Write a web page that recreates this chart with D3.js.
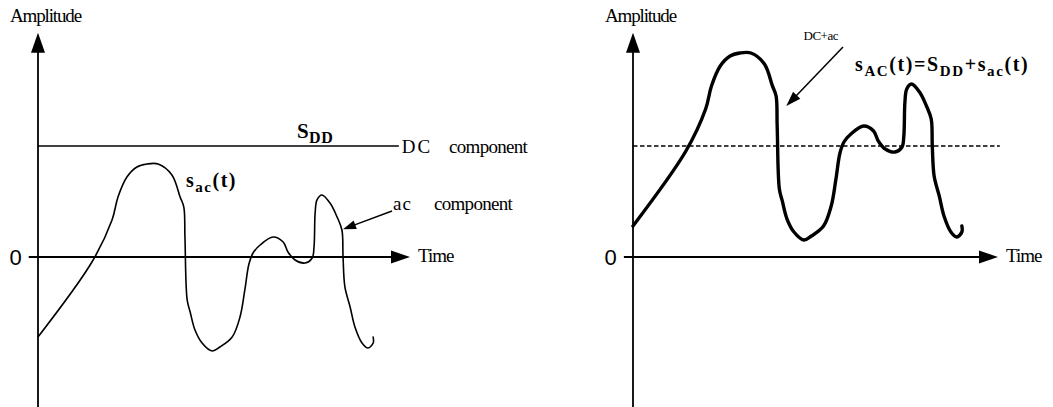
<!DOCTYPE html>
<html>
<head>
<meta charset="utf-8">
<script src="https://cdn.jsdelivr.net/npm/d3@7"></script>
<style>
  body { margin: 0; background: #fff; }
  svg { display: block; }
</style>
</head>
<body>
<div id="chart"></div>
<script>
// hand-drawn ac signal
// time in arbitrary units (arrow tip of the time axis = 10)
const timeValues = [0, 1.45, 1.99, 2.15, 2.39, 2.66, 2.93, 3.23, 3.60, 3.82, 3.92, 3.95, 4.01, 4.09, 4.22,
    4.41, 4.68, 4.89, 5.22, 5.43, 5.56, 5.67, 5.78, 5.97, 6.32, 6.59, 6.72, 6.91, 7.18, 7.37, 7.42,
    7.45, 7.50, 7.63, 7.85, 8.04, 8.17, 8.20, 8.25, 8.39, 8.52, 8.71, 8.87, 9.01, 9.01];
// ac amplitude, in units of the DC level
const acValues = [-0.72, -0.045, 0.333, 0.541, 0.721, 0.811, 0.838, 0.838, 0.739, 0.541, 0.450, 0.180, -0.387, -0.495, -0.658,
    -0.775, -0.847, -0.811, -0.721, -0.541, -0.297, -0.063, 0.036, 0.108, 0.180, 0.135, 0.045, -0.027, -0.054, -0.009, 0.090,
    0.396, 0.514, 0.559, 0.486, 0.360, 0.243, 0, -0.270, -0.450, -0.631, -0.775, -0.820, -0.775, -0.721];
const dcLevel = 1;
const zeroTick = ["0"];
const axisNames = ["Amplitude", "Time"];

const width = 1053, height = 407;

const svg = d3.select("#chart").append("svg")
    .attr("width", width)
    .attr("height", height)
    .attr("viewBox", `0 0 ${width} ${height}`);

const serif = "'Liberation Serif', 'Times New Roman', serif";
const sans = "'Liberation Sans', Arial, sans-serif";

// amplitude scale is shared by both panels
const y = d3.scaleLinear().domain([0, dcLevel]).range([257, 146]);

// filled arrow head, tip at (x2,y2)
function arrowHead(g, x1, y1, x2, y2, len, half) {
    const a = Math.atan2(y2 - y1, x2 - x1);
    const bx = x2 - len * Math.cos(a), by = y2 - len * Math.sin(a);
    const px = -Math.sin(a) * half, py = Math.cos(a) * half;
    g.append("path")
        .attr("d", `M${x2},${y2}L${bx + px},${by + py}L${bx - px},${by - py}Z`)
        .attr("fill", "#000");
}

function arrow(g, x1, y1, x2, y2, len, half, sw) {
    const a = Math.atan2(y2 - y1, x2 - x1);
    g.append("line")
        .attr("x1", x1).attr("y1", y1)
        .attr("x2", x2 - (len - 2) * Math.cos(a)).attr("y2", y2 - (len - 2) * Math.sin(a))
        .attr("stroke", "#000").attr("stroke-width", sw);
    arrowHead(g, x1, y1, x2, y2, len, half);
}

// text with subscripts, parts = [[string, isSub], ...]
function richText(g, x, yb, parts, size, subSize, ls) {
    const t = g.append("text")
        .attr("x", x).attr("y", yb)
        .attr("font-family", serif)
        .attr("font-weight", "bold")
        .attr("font-size", size)
        .attr("letter-spacing", ls || 0);
    let down = false;
    parts.forEach(([s, sub]) => {
        const ts = t.append("tspan").text(s);
        if (sub && !down) { ts.attr("dy", 5).attr("font-size", subSize); down = true; }
        else if (sub) { ts.attr("font-size", subSize); }
        else if (down) { ts.attr("dy", -5); down = false; }
    });
    return t;
}

function label(g, x, yb, s, opts = {}) {
    return g.append("text")
        .attr("x", x).attr("y", yb)
        .attr("font-family", opts.family || serif)
        .attr("font-size", opts.size || 19)
        .attr("letter-spacing", opts.ls || 0)
        .attr("text-anchor", opts.anchor || "start")
        .text(s);
}

function drawPanel(x0, xTip, opts) {
    const g = svg.append("g");
    const x = d3.scaleLinear().domain([0, 10]).range([x0, xTip]);

    // axes
    arrow(g, x0, height, x0, y(2.02), 20, 7, 1.8);
    arrow(g, x(-0.25), y(0), xTip, y(0), 19, 6.5, 1.8);

    label(g, x0 - 28, 22, axisNames[0], { ls: -1.15 });
    label(g, xTip + 8, y(0) + 5, axisNames[1], { ls: -1 });
    label(g, x0 - 22.5, y(0) + 8, zeroTick[0], { family: sans, size: 22, anchor: "middle" });

    // DC level
    g.append("line")
        .attr("x1", x0).attr("x2", x(opts.dcEnd))
        .attr("y1", y(dcLevel)).attr("y2", y(dcLevel))
        .attr("stroke", "#000")
        .attr("stroke-width", opts.dashed ? 1.4 : 1.6)
        .attr("stroke-dasharray", opts.dashed ? "4.5,2.5" : null);

    // signal
    const pts = timeValues.map((t, i) => [t, acValues[i] + opts.offset]);
    const line = d3.line()
        .x(d => x(d[0]))
        .y(d => y(d[1]))
        .curve(d3.curveCatmullRom.alpha(0.5));
    g.append("path")
        .datum(pts)
        .attr("d", line)
        .attr("fill", "none")
        .attr("stroke", "#000")
        .attr("stroke-width", opts.sw)
        .attr("stroke-linejoin", "round")
        .attr("stroke-linecap", "round");

    return { g, x };
}

// left panel: ac component and DC component drawn apart
const left = drawPanel(38, 410, { offset: 0, dcEnd: 9.7, dashed: false, sw: 1.6 });
richText(left.g, left.x(6.96), y(dcLevel) - 8, [["S", false], ["DD", true]], 21, 16, 0.5);
label(left.g, left.x(9.78), y(dcLevel) + 7, "DC", { ls: 2 });
label(left.g, left.x(11.05), y(dcLevel) + 7, "component", { ls: -0.7 });
richText(left.g, left.x(3.98), 187, [["s", false], ["ac", true], ["(t)", false]], 20, 15, 1.5);
arrow(left.g, 392, 211, left.x(8.2), y(0.25), 13, 4.5, 1.5);
label(left.g, 393, 210, "ac", { ls: 1 });
label(left.g, 434, 210, "component", { ls: -0.7 });

// right panel: sum of both
const right = drawPanel(633, 998, { offset: dcLevel, dcEnd: 10.05, dashed: true, sw: 3.4 });
label(right.g, 838, 40, "DC+ac", { size: 13, ls: -0.5, anchor: "end" });
arrow(right.g, 843, 47, right.x(4.2), y(1.36), 15, 5, 1.5);
richText(right.g, 855, 71, [["s", false], ["AC", true], ["(t)=S", false], ["DD", true], ["+s", false], ["ac", true], ["(t)", false]], 20, 15, 1.6);
</script>
</body>
</html>
